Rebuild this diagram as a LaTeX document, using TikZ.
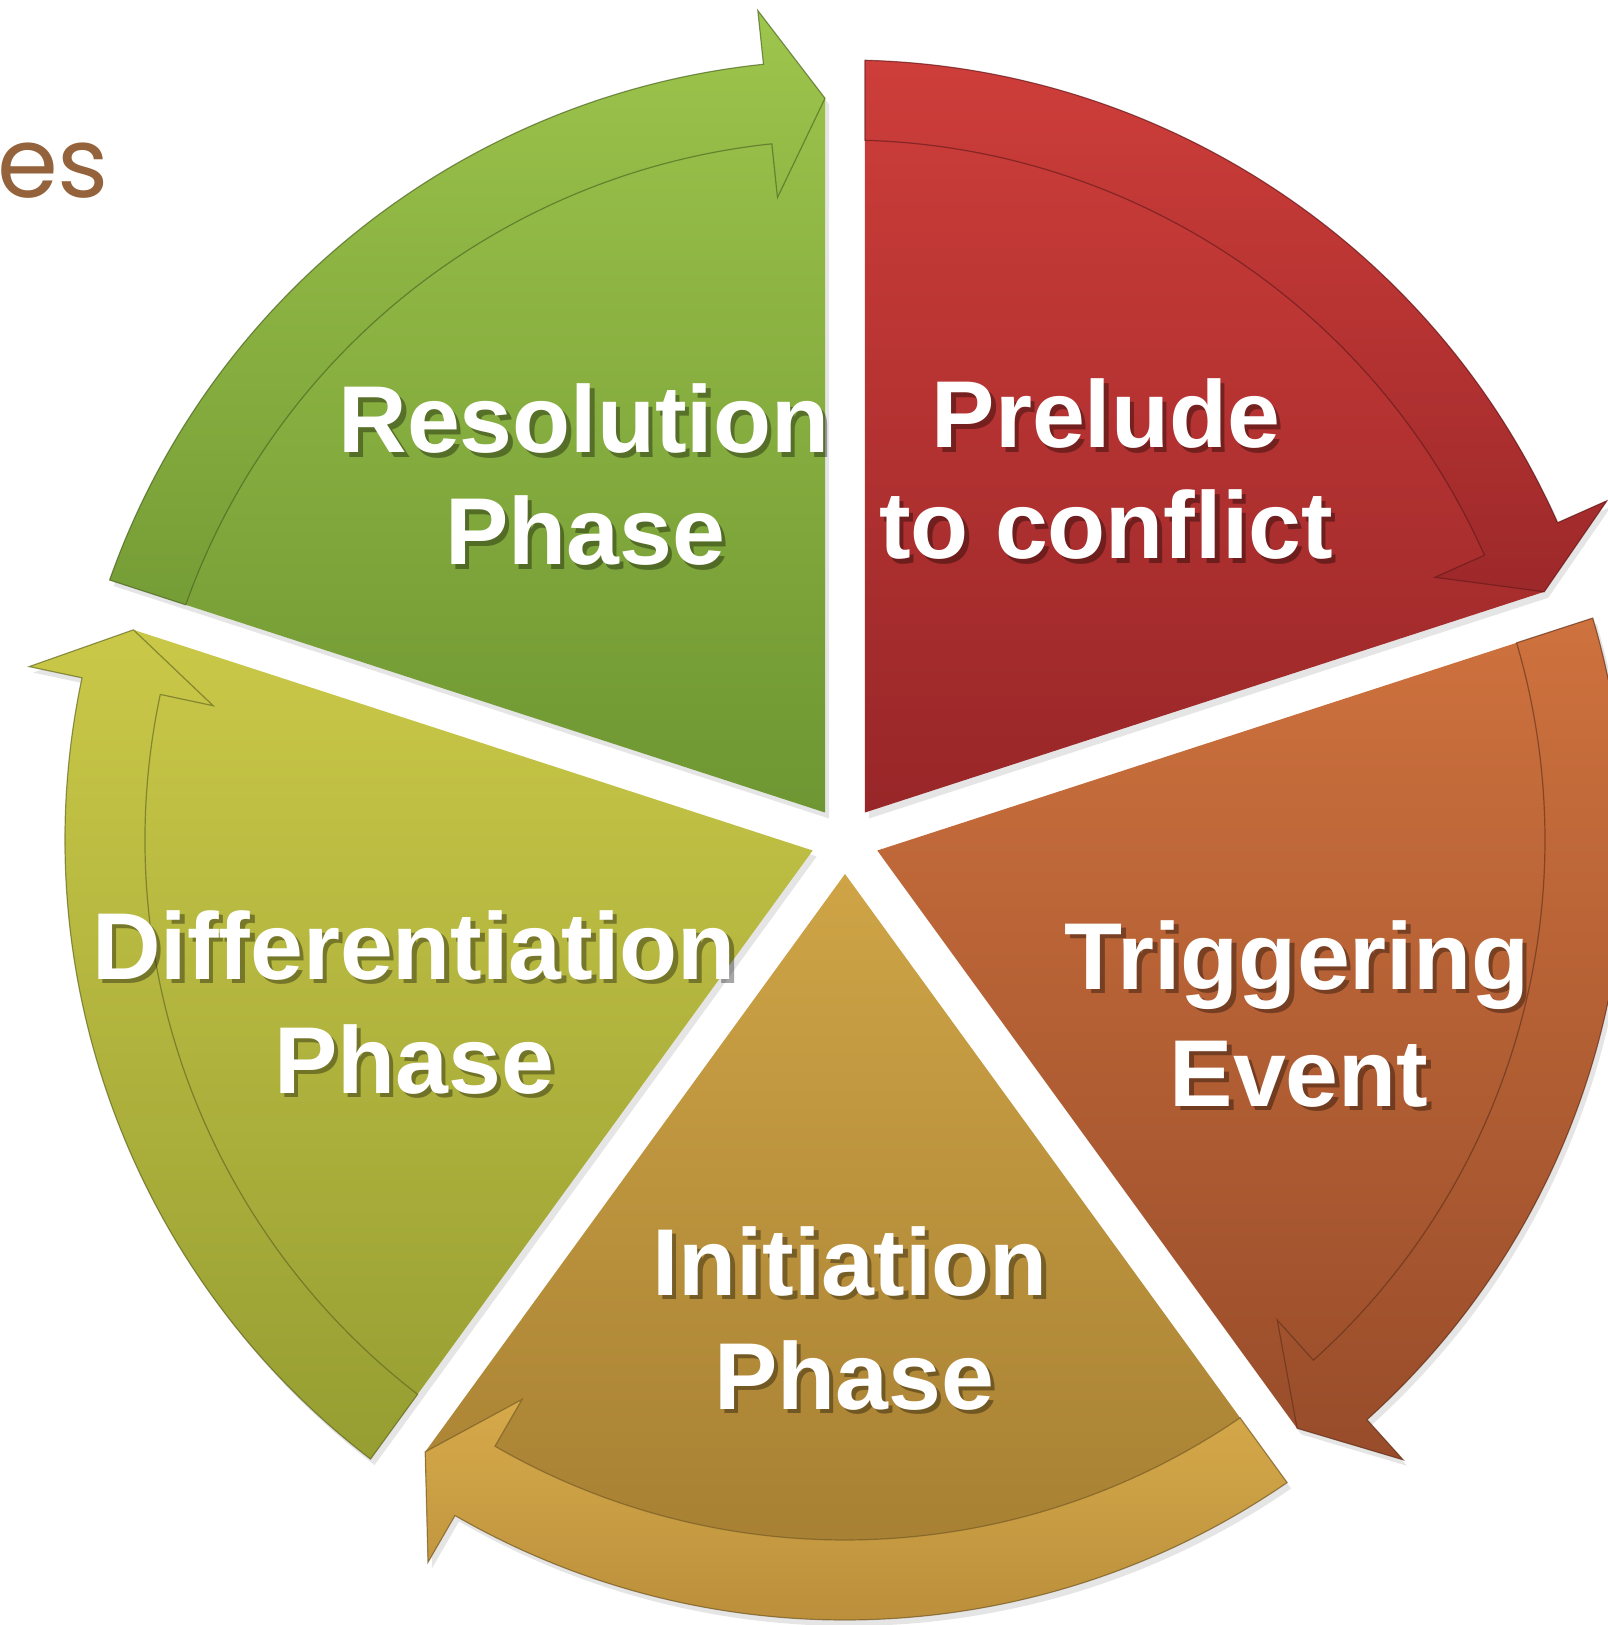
\documentclass[tikz,border=0pt]{standalone}
\usepackage{fontspec}
\setmainfont{Liberation Sans}
\newfontfamily\titlefont{Poppins}

\definecolor{grnT}{RGB}{158,197,76}
\definecolor{grnB}{RGB}{110,150,50}
\definecolor{redT}{RGB}{206,62,58}
\definecolor{redB}{RGB}{152,38,40}
\definecolor{orgT}{RGB}{206,114,62}
\definecolor{orgB}{RGB}{152,76,42}
\definecolor{gldT}{RGB}{206,164,70}
\definecolor{gldB}{RGB}{160,122,48}
\definecolor{gbdT}{RGB}{214,170,74}
\definecolor{gbdB}{RGB}{182,138,56}
\definecolor{ylwT}{RGB}{202,200,72}
\definecolor{ylwB}{RGB}{150,158,50}
\definecolor{titlebrown}{RGB}{148,99,60}

\tikzset{
  lbl/.style={font=\fontsize{95}{112}\selectfont\bfseries, text=white, anchor=base, inner sep=0pt},
  lblshadow/.style={lbl, text=black},
}

% #1 start angle, #2/#3 wedge top/bottom colour, #4/#5 ribbon top/bottom colour, #6 name
\newcommand\cycseg[6]{%
  \pgfmathsetmacro\cyE{#1-72}%
  \pgfmathsetmacro\cyM{#1-36}%
  \pgfmathsetmacro\cyH{#1-72+6}%
  \pgfmathsetmacro\cyO{#1-asin(20/780)}%
  \pgfmathsetmacro\cyI{#1-asin(20/700)}%
  \pgfmathsetmacro\cyT{#1-72+asin(20/742)}%
  \coordinate (#6-apex) at (\cyM:34);
  \coordinate (#6-tip) at (\cyT:742);
  \fill[black, opacity=.10] ([shift={(4,-6)}]\cyM:34) -- ([shift={(4,-6)}]\cyO:780)
     arc[start angle=\cyO, end angle=\cyH, radius=780] -- ([shift={(4,-6)}]\cyH:834) -- ([shift={(4,-6)}]\cyT:742) -- cycle;
  \path[top color=#2, bottom color=#3] (#6-apex) -- (\cyO:780)
     arc[start angle=\cyO, end angle=\cyH, radius=780] -- (\cyH:834) -- (#6-tip) -- cycle;
  \path[top color=#4, bottom color=#5, draw=#5!60!black, draw opacity=.6, line width=1.2pt, line join=miter]
     (\cyO:780) arc[start angle=\cyO, end angle=\cyH, radius=780] -- (\cyH:834) -- (#6-tip)
     -- (\cyH:646) -- (\cyH:700) arc[start angle=\cyH, end angle=\cyI, radius=700] -- cycle;
}

% #1 name, #2 position, #3 text
\newcommand\cyclabel[3]{%
  \node[lblshadow, opacity=.35] at ([shift={(4.5,-4.5)}]#2) {#3};
  \node[lbl] (#1) at (#2) {#3};
}

\begin{document}
\begin{tikzpicture}[x=1pt, y=1pt]
\useasboundingbox[fill=white] (-845,-785) rectangle (762,840);

\node[font=\titlefont\fontsize{98}{104}\selectfont, text=titlebrown, anchor=base west, inner sep=0pt] (title) at (-848,642) {es};

\cycseg{162}{grnT}{grnB}{grnT}{grnB!85!grnT}{res}
\cycseg{90}{redT}{redB}{redT}{redB!90!redT}{pre}
\cycseg{18}{orgT}{orgB}{orgT}{orgB}{trg}
\cycseg{-54}{gldT}{gldB}{gbdT}{gbdB}{ini}
\cycseg{-126}{ylwT}{ylwB}{ylwT}{ylwB}{dif}

\cyclabel{res1}{-261,387}{Resolution}
\cyclabel{res2}{-260,275}{Phase}
\cyclabel{pre1}{261,392}{Prelude}
\cyclabel{pre2}{261,281}{to conflict}
\cyclabel{trg1}{452,-149}{Triggering}
\cyclabel{trg2}{454,-266}{Event}
\cyclabel{dif1}{-431,-139}{Differentiation}
\cyclabel{dif2}{-431,-253}{Phase}
\cyclabel{ini1}{5,-455}{Initiation}
\cyclabel{ini2}{9,-569}{Phase}
\end{tikzpicture}
\end{document}
